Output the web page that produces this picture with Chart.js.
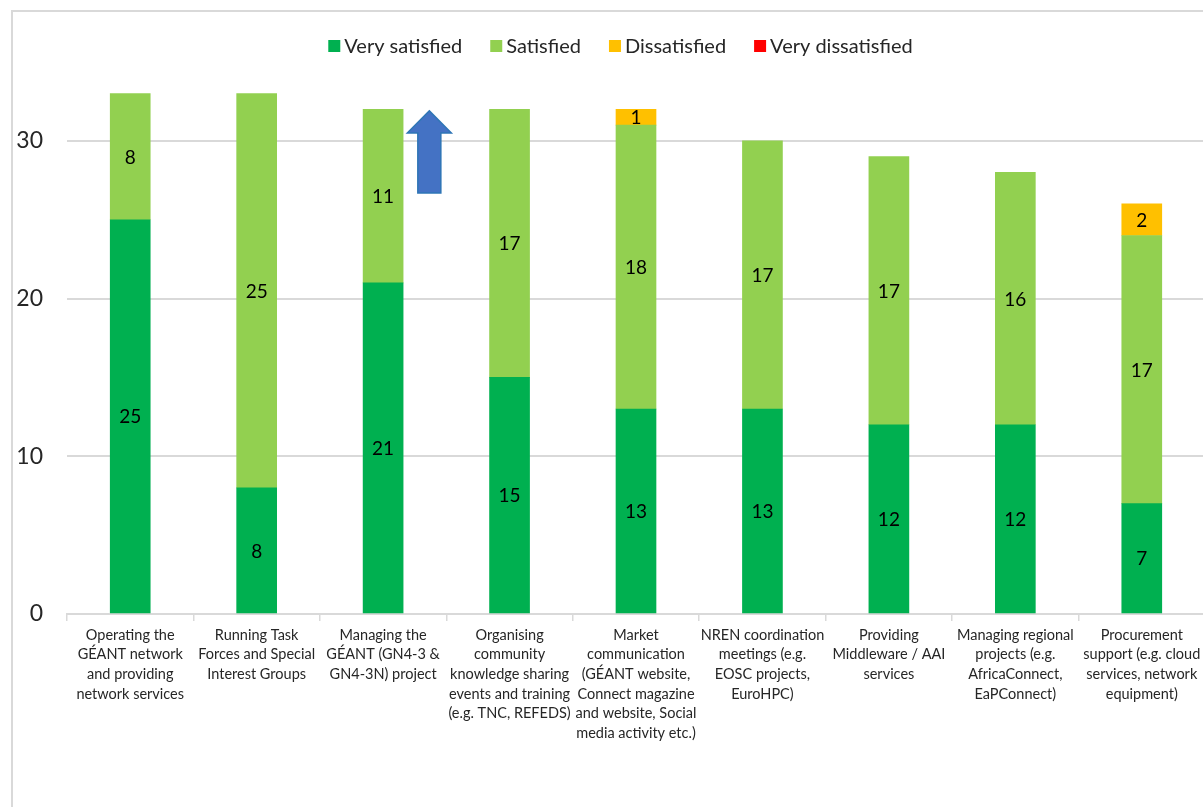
<!DOCTYPE html>
<html>
<head>
<meta charset="utf-8">
<script src="https://cdn.jsdelivr.net/npm/chart.js@4/dist/chart.umd.min.js"></script>
<style>
  html, body { margin: 0; padding: 0; background: #fff; overflow: hidden; width: 1203px; height: 807px; }
  #frame { position: absolute; left: 11px; top: 10px; width: 1400px; height: 1000px; border: 2px solid #d9d9d9; box-sizing: border-box; }
  #wrap { position: absolute; left: 0; top: 0; width: 1240px; height: 807px; }
</style>
</head>
<body>
<div id="frame"></div>
<div id="wrap"><canvas id="c" width="1240" height="807"></canvas></div>
<script>
const categories = [
  ["Operating the", "GÉANT network", "and providing", "network services"],
  ["Running Task", "Forces and Special", "Interest Groups"],
  ["Managing the", "GÉANT (GN4-3 &", "GN4-3N) project"],
  ["Organising", "community", "knowledge sharing", "events and training", "(e.g. TNC, REFEDS)"],
  ["Market", "communication", "(GÉANT website,", "Connect magazine", "and website, Social", "media activity etc.)"],
  ["NREN coordination", "meetings (e.g.", "EOSC projects,", "EuroHPC)"],
  ["Providing", "Middleware / AAI", "services"],
  ["Managing regional", "projects (e.g.", "AfricaConnect,", "EaPConnect)"],
  ["Procurement", "support (e.g. cloud", "services, network", "equipment)"]
];
const verySatisfied    = [25, 8, 21, 15, 13, 13, 12, 12, 7];
const satisfied        = [8, 25, 11, 17, 18, 17, 17, 16, 17];
const dissatisfied     = [0, 0, 0, 0, 1, 0, 0, 0, 2];
const veryDissatisfied = [0, 0, 0, 0, 0, 0, 0, 0, 0];
const yTicks = [0, 10, 20, 30];

const FONT = "Lato, 'Open Sans', sans-serif";
const nz = arr => arr.map(v => (v === 0 ? null : v));

const dataLabels = {
  id: 'dataLabels',
  afterDatasetsDraw(chart) {
    const ctx = chart.ctx;
    ctx.save();
    ctx.font = "19px " + FONT;
    ctx.fillStyle = "#000";
    ctx.textAlign = "center";
    ctx.textBaseline = "middle";
    chart.data.datasets.forEach((ds, di) => {
      const meta = chart.getDatasetMeta(di);
      meta.data.forEach((el, i) => {
        const v = ds.data[i];
        if (!v) return;
        const p = el.getProps(['x', 'y', 'base'], true);
        ctx.fillText(String(v), p.x, (p.y + p.base) / 2 + 1);
      });
    });
    ctx.restore();
  }
};

const legendPlugin = {
  id: 'customLegend',
  afterDraw(chart) {
    const ctx = chart.ctx;
    ctx.save();
    ctx.font = "20px " + FONT;
    ctx.textBaseline = "middle";
    ctx.textAlign = "left";
    const box = 12, boxGap = 4, itemGap = 28;
    const items = chart.data.datasets.map(ds => ({ text: ds.label, color: ds.backgroundColor, w: ctx.measureText(ds.label).width }));
    let total = 0;
    items.forEach((it, i) => { total += box + boxGap + it.w + (i < items.length - 1 ? itemGap : 0); });
    let x = 620.5 - total / 2;
    const cy = 46;
    items.forEach(it => {
      ctx.fillStyle = it.color;
      ctx.fillRect(x, cy - box / 2, box, box);
      x += box + boxGap;
      ctx.fillStyle = '#262626';
      ctx.fillText(it.text, x, cy + 1);
      x += it.w + itemGap;
    });
    ctx.restore();
  }
};

const arrow = {
  id: 'arrow',
  afterDatasetsDraw(chart) {
    const xs = chart.scales.x, ys = chart.scales.y;
    const boundary = (xs.getPixelForValue(2) + xs.getPixelForValue(3)) / 2;
    const cx = boundary - 17;
    const tip = ys.getPixelForValue(31.9);
    const headBase = ys.getPixelForValue(30.5);
    const bottom = ys.getPixelForValue(26.7);
    const hw = 22, sw = 11.5;
    const ctx = chart.ctx;
    ctx.save();
    ctx.beginPath();
    ctx.moveTo(cx, tip);
    ctx.lineTo(cx + hw, headBase);
    ctx.lineTo(cx + sw, headBase);
    ctx.lineTo(cx + sw, bottom);
    ctx.lineTo(cx - sw, bottom);
    ctx.lineTo(cx - sw, headBase);
    ctx.lineTo(cx - hw, headBase);
    ctx.closePath();
    ctx.fillStyle = "#4472c4";
    ctx.fill();
    ctx.lineWidth = 1.5;
    ctx.strokeStyle = "#2e75b6";
    ctx.stroke();
    ctx.restore();
  }
};

new Chart(document.getElementById('c'), {
  type: 'bar',
  data: {
    labels: categories,
    datasets: [
      { label: 'Very satisfied', data: nz(verySatisfied), backgroundColor: '#00b050' },
      { label: 'Satisfied', data: nz(satisfied), backgroundColor: '#92d050' },
      { label: 'Dissatisfied', data: nz(dissatisfied), backgroundColor: '#ffc000' },
      { label: 'Very dissatisfied', data: nz(veryDissatisfied), backgroundColor: '#ff0000' }
    ]
  },
  options: {
    responsive: false,
    animation: false,
    devicePixelRatio: 1,
    layout: { padding: { top: 62, left: 0, right: 35, bottom: 0 } },
    datasets: { bar: { barThickness: 40 } },
    plugins: {
      tooltip: { enabled: false },
      legend: { display: false }
    },
    scales: {
      x: {
        stacked: true,
        afterFit(scale) { scale.height = 193; },
        grid: { display: true, drawOnChartArea: false, drawTicks: true, tickLength: 7, color: '#d9d9d9', lineWidth: 1.5 },
        border: { display: true, color: '#d9d9d9', width: 2 },
        ticks: {
          autoSkip: false, maxRotation: 0, minRotation: 0,
          font: { family: FONT, size: 14.5, lineHeight: 1.36 },
          color: '#262626',
          padding: 4
        }
      },
      y: {
        stacked: true,
        min: 0,
        max: 35,
        afterFit(scale) { scale.width = 67; },
        afterBuildTicks(scale) { scale.ticks = yTicks.map(v => ({ value: v })); },
        grid: { color: '#d9d9d9', lineWidth: 2, drawTicks: false },
        border: { display: false },
        ticks: {
          font: { family: FONT, size: 23 },
          color: '#262626',
          padding: 24
        }
      }
    }
  },
  plugins: [dataLabels, arrow, legendPlugin]
});
</script>
</body>
</html>
